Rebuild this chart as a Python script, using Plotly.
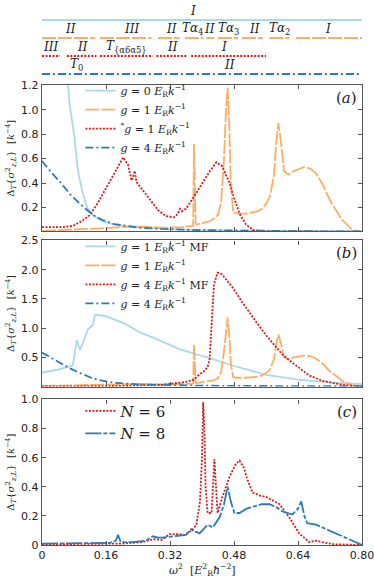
import plotly.graph_objects as go

LIGHT = "#abd9e9"
ORANGE = "#fdae61"
RED = "#d7191c"
BLUE = "#2c7bb6"
FRAME = "#555555"
TEXT = "#222222"
SERIF = "DejaVu Serif"
SANS = "DejaVu Sans"

X_TICKS = [0, 0.16, 0.32, 0.48, 0.64, 0.80]
X_TICK_TEXT = ["0", "0.16", "0.32", "0.48", "0.64", "0.80"]

# phase diagram rows: (start, end) segments per row
PHASE_LIGHT = [(0.0, 0.8)]
PHASE_ORANGE = [(0.0, 0.132), (0.145, 0.274), (0.29, 0.344), (0.357, 0.403), (0.411, 0.431),
                (0.44, 0.49), (0.5, 0.552), (0.568, 0.618), (0.635, 0.8)]
PHASE_RED = [(0.0, 0.045), (0.062, 0.136), (0.145, 0.277), (0.286, 0.361), (0.373, 0.56)]
PHASE_BLUE = [(0.0, 0.8)]
LABELS_LIGHT = [(0.377, "<i>I</i>")]
LABELS_ORANGE = [(0.07, "<i>II</i>"), (0.224, "<i>III</i>"), (0.323, "<i>II</i>"),
                 (0.377, "<i>Tα</i><sub>4</sub>"), (0.419, "<i>II</i>"), (0.465, "<i>Tα</i><sub>3</sub>"),
                 (0.531, "<i>II</i>"), (0.593, "<i>Tα</i><sub>2</sub>"), (0.714, "<i>I</i>")]
LABELS_RED = [(0.02, "<i>III</i>"), (0.102, "<i>II</i>"), (0.211, "<i>T</i><sub>{α6α5}</sub>"),
              (0.327, "<i>II</i>"), (0.454, "<i>I</i>")]
LABELS_BLUE = [(0.085, "<i>T</i><sub>0</sub>"), (0.469, "<i>II</i>")]

# panel (a)
G0_X = [0.058, 0.062, 0.065, 0.07, 0.075, 0.08, 0.09, 0.1, 0.113, 0.12, 0.13, 0.15, 0.17, 0.2,
        0.25, 0.3, 0.35, 0.4, 0.5, 0.6, 0.7, 0.8]
G0_Y = [1.5, 1.3, 1.2, 1.02, 0.9, 0.8, 0.5, 0.34, 0.2, 0.17, 0.13, 0.09, 0.07, 0.05,
        0.035, 0.025, 0.02, 0.016, 0.012, 0.01, 0.01, 0.01]
G1_X = [0, 0.05, 0.1, 0.15, 0.2, 0.25, 0.3, 0.35, 0.378, 0.38, 0.382, 0.384, 0.386, 0.39, 0.4,
        0.42, 0.43, 0.44, 0.448, 0.455, 0.46, 0.464, 0.468, 0.472, 0.478, 0.49, 0.51, 0.53, 0.54,
        0.55, 0.56, 0.57, 0.58, 0.586, 0.591, 0.597, 0.605, 0.615, 0.63, 0.655, 0.67, 0.685, 0.7,
        0.72, 0.75, 0.775, 0.8]
G1_Y = [0.01, 0.015, 0.02, 0.03, 0.04, 0.045, 0.035, 0.04, 0.05, 0.72, 0.4, 0.07, 0.06, 0.065,
        0.07, 0.09, 0.11, 0.14, 0.25, 0.6, 1.0, 1.18, 0.9, 0.4, 0.16, 0.15, 0.15, 0.16, 0.17,
        0.19, 0.23, 0.29, 0.47, 0.75, 0.89, 0.75, 0.5, 0.47, 0.5, 0.53, 0.52, 0.48, 0.4,
        0.26, 0.1, 0.02, 0.0]
G1S_X = [0, 0.05, 0.077, 0.1, 0.12, 0.14, 0.162, 0.185, 0.203, 0.215, 0.224, 0.232, 0.236, 0.25,
         0.27, 0.29, 0.31, 0.33, 0.34, 0.345, 0.35, 0.36, 0.38, 0.4, 0.42, 0.436, 0.45, 0.469,
         0.48, 0.494, 0.51, 0.53, 0.56, 0.6, 0.7, 0.8]
G1S_Y = [0.04, 0.04, 0.05, 0.09, 0.14, 0.24, 0.37, 0.5, 0.61, 0.55, 0.42, 0.5, 0.41, 0.35,
         0.26, 0.18, 0.13, 0.12, 0.15, 0.19, 0.17, 0.19, 0.29, 0.4, 0.5, 0.57, 0.54, 0.4,
         0.28, 0.15, 0.06, 0.015, 0.005, 0.003, 0.002, 0.001]
G4_X = [0, 0.02, 0.045, 0.07, 0.095, 0.127, 0.15, 0.18, 0.245, 0.3, 0.4, 0.5, 0.6, 0.7, 0.8]
G4_Y = [0.58, 0.5, 0.41, 0.31, 0.23, 0.14, 0.1, 0.065, 0.035, 0.025, 0.015, 0.01, 0.008, 0.006, 0.005]

# panel (b)
MF1_X = [0, 0.04, 0.077, 0.087, 0.095, 0.107, 0.115, 0.127, 0.132, 0.145, 0.162, 0.212, 0.244,
         0.294, 0.344, 0.386, 0.414, 0.476, 0.561, 0.64, 0.72, 0.8]
MF1_Y = [0.24, 0.29, 0.36, 0.79, 0.62, 0.84, 0.98, 1.05, 1.22, 1.22, 1.2, 1.06, 0.93,
         0.79, 0.64, 0.55, 0.5, 0.36, 0.2, 0.12, 0.07, 0.04]
MF4_X = [0, 0.2, 0.3, 0.36, 0.38, 0.394, 0.405, 0.414, 0.419, 0.422, 0.426, 0.43, 0.439, 0.45,
         0.476, 0.501, 0.536, 0.56, 0.586, 0.601, 0.618, 0.64, 0.668, 0.7, 0.75, 0.8]
MF4_Y = [0.0, 0.01, 0.03, 0.08, 0.12, 0.21, 0.26, 0.33, 0.47, 0.88, 1.39, 1.75, 1.95, 1.92,
         1.7, 1.44, 1.1, 0.88, 0.67, 0.55, 0.45, 0.33, 0.19, 0.1, 0.03, 0.0]

# panel (c)
N6_X = [0, 0.1, 0.2, 0.25, 0.28, 0.3, 0.319, 0.34, 0.357, 0.375, 0.386, 0.395, 0.4, 0.403, 0.406,
        0.409, 0.414, 0.424, 0.428, 0.431, 0.435, 0.439, 0.451, 0.469, 0.485, 0.494, 0.505, 0.511,
        0.526, 0.545, 0.561, 0.594, 0.618, 0.643, 0.668, 0.685, 0.7, 0.73, 0.8]
N6_Y = [0.005, 0.005, 0.01, 0.02, 0.04, 0.035, 0.075, 0.075, 0.07, 0.1, 0.14, 0.3, 0.6, 0.98, 0.8,
        0.4, 0.22, 0.22, 0.4, 0.59, 0.4, 0.22, 0.33, 0.47, 0.56, 0.58, 0.53, 0.47,
        0.36, 0.34, 0.33, 0.28, 0.19, 0.08, 0.02, 0.03, 0.02, 0.005, 0.0]
N8_X = [0, 0.1, 0.17, 0.185, 0.19, 0.197, 0.227, 0.26, 0.277, 0.29, 0.3, 0.33, 0.36, 0.373, 0.38,
        0.386, 0.394, 0.414, 0.427, 0.444, 0.455, 0.464, 0.472, 0.481, 0.494, 0.511, 0.549, 0.569,
        0.586, 0.601, 0.626, 0.64, 0.648, 0.656, 0.663, 0.685, 0.718, 0.76, 0.8]
N8_Y = [0.01, 0.01, 0.015, 0.03, 0.07, 0.02, 0.02, 0.03, 0.06, 0.05, 0.05, 0.06, 0.07, 0.11, 0.09,
        0.09, 0.08, 0.14, 0.12, 0.19, 0.28, 0.4, 0.3, 0.22, 0.22, 0.25, 0.28, 0.28,
        0.26, 0.23, 0.21, 0.25, 0.3, 0.2, 0.15, 0.14, 0.1, 0.05, 0.0]

ORANGE_DASH = "14px,2px"
RED_DOT = "2px,1.5px"
BLUE_DASHDOT = "8px,3px,2px,3px"
N8_DASH = "16px,2px,4px,2px"

fig = go.Figure()

# phase diagram
phase_rows = [
    (PHASE_LIGHT, LABELS_LIGHT, LIGHT, "solid"),
    (PHASE_ORANGE, LABELS_ORANGE, ORANGE, ORANGE_DASH),
    (PHASE_RED, LABELS_RED, RED, RED_DOT),
    (PHASE_BLUE, LABELS_BLUE, BLUE, BLUE_DASHDOT),
]
for level, (segments, texts, color, dash) in enumerate(phase_rows):
    xs, ys = [], []
    for start, end in segments:
        xs += [start, end, None]
        ys += [level, level, None]
    fig.add_trace(go.Scatter(x=xs, y=ys, mode="lines", xaxis="x", yaxis="y", showlegend=False,
                             line=dict(color=color, width=2, dash=dash), hoverinfo="skip"))
    for pos, txt in texts:
        fig.add_annotation(x=pos, y=level - 0.5, xref="x", yref="y", text=txt, showarrow=False,
                           font=dict(family=SERIF, size=12, color=TEXT))

ER = "<i>E</i><sub>R</sub><i>k</i><sup>−1</sup>"

# panel (a)
fig.add_trace(go.Scatter(x=G0_X, y=G0_Y, mode="lines", xaxis="x2", yaxis="y2", legend="legend",
                         name=f"<i>g</i> = 0 {ER}", line=dict(color=LIGHT, width=1.8)))
fig.add_trace(go.Scatter(x=G1_X, y=G1_Y, mode="lines", xaxis="x2", yaxis="y2", legend="legend",
                         name=f"<i>g</i> = 1 {ER}", line=dict(color=ORANGE, width=1.8, dash=ORANGE_DASH)))
fig.add_trace(go.Scatter(x=G1S_X, y=G1S_Y, mode="lines", xaxis="x2", yaxis="y2", legend="legend",
                         name=f"<sup>*</sup><i>g</i> = 1 {ER}", line=dict(color=RED, width=1.8, dash=RED_DOT)))
fig.add_trace(go.Scatter(x=G4_X, y=G4_Y, mode="lines", xaxis="x2", yaxis="y2", legend="legend",
                         name=f"<i>g</i> = 4 {ER}", line=dict(color=BLUE, width=1.8, dash=BLUE_DASHDOT)))

# panel (b)
fig.add_trace(go.Scatter(x=MF1_X, y=MF1_Y, mode="lines", xaxis="x3", yaxis="y3", legend="legend2",
                         name=f"<i>g</i> = 1 {ER} MF", line=dict(color=LIGHT, width=1.8)))
fig.add_trace(go.Scatter(x=G1_X, y=G1_Y, mode="lines", xaxis="x3", yaxis="y3", legend="legend2",
                         name=f"<i>g</i> = 1 {ER}", line=dict(color=ORANGE, width=1.8, dash=ORANGE_DASH)))
fig.add_trace(go.Scatter(x=MF4_X, y=MF4_Y, mode="lines", xaxis="x3", yaxis="y3", legend="legend2",
                         name=f"<i>g</i> = 4 {ER} MF", line=dict(color=RED, width=1.8, dash=RED_DOT)))
fig.add_trace(go.Scatter(x=G4_X, y=G4_Y, mode="lines", xaxis="x3", yaxis="y3", legend="legend2",
                         name=f"<i>g</i> = 4 {ER}", line=dict(color=BLUE, width=1.8, dash=BLUE_DASHDOT)))

# panel (c)
fig.add_trace(go.Scatter(x=N6_X, y=N6_Y, mode="lines", xaxis="x4", yaxis="y4", legend="legend3",
                         name="<i>N</i> = 6", line=dict(color=RED, width=1.8, dash=RED_DOT)))
fig.add_trace(go.Scatter(x=N8_X, y=N8_Y, mode="lines", xaxis="x4", yaxis="y4", legend="legend3",
                         name="<i>N</i> = 8", line=dict(color=BLUE, width=1.8, dash=N8_DASH)))

for ref, tag in [("2", "(<i>a</i>)"), ("3", "(<i>b</i>)"), ("4", "(<i>c</i>)")]:
    fig.add_annotation(x=0.99, y=0.99, xref=f"x{ref} domain", yref=f"y{ref} domain", text=tag,
                       showarrow=False, xanchor="right", yanchor="top",
                       font=dict(family=SERIF, size=15, color=TEXT))

YTITLE = "Δ<sub><i>T</i></sub>{<i>σ</i><sup>2</sup><sub><i>z,L</i></sub>}  [<i>k</i><sup>−4</sup>]"
XTITLE = "<i>ω</i><sup>2</sup>  [<i>E</i><sup>2</sup><sub>R</sub><i>ħ</i><sup>−2</sup>]"

fig.add_annotation(x=0.5, y=-0.047, xref="paper", yref="paper", text=XTITLE, showarrow=False,
                   yanchor="middle", font=dict(family=SERIF, size=11, color=TEXT))

frame = dict(showline=True, linecolor=FRAME, linewidth=1.4, mirror="ticks", ticks="inside",
             ticklen=4, tickcolor=FRAME, showgrid=False, zeroline=False,
             tickfont=dict(family=SANS, size=11, color=TEXT))


def xaxis(domain_anchor, show_labels):
    return dict(frame, domain=[0, 1], range=[0, 0.8], anchor=domain_anchor, tickvals=X_TICKS,
                ticktext=X_TICK_TEXT, showticklabels=show_labels, ticklabeloverflow="allow")


def yaxis(domain, rng, vals, texts):
    return dict(frame, domain=domain, range=rng, tickvals=vals, ticktext=texts,
                title=dict(text=YTITLE, font=dict(family=SERIF, size=10, color=TEXT), standoff=4))


legend_base = dict(bgcolor="rgba(0,0,0,0)", borderwidth=0, xanchor="left", yanchor="top",
                   itemwidth=30, tracegroupgap=0)

fig.update_layout(
    width=374,
    height=579,
    margin=dict(l=42, r=12, t=0, b=34),
    paper_bgcolor="white",
    plot_bgcolor="white",
    xaxis=dict(domain=[0, 1], range=[0, 0.8], anchor="y", visible=False),
    yaxis=dict(domain=[0.862, 1], range=[3.35, -0.78], visible=False),
    xaxis2=xaxis("y2", False),
    yaxis2=yaxis([0.582, 0.853], [0.006, 1.2], [0.2, 0.4, 0.6, 0.8, 1.0, 1.2],
                 ["0.2", "0.4", "0.6", "0.8", "1.0", "1.2"]),
    xaxis3=xaxis("y3", False),
    yaxis3=yaxis([0.294, 0.565], [0, 2.5], [0.5, 1.0, 1.5, 2.0, 2.5],
                 ["0.5", "1.0", "1.5", "2.0", "2.5"]),
    xaxis4=xaxis("y4", True),
    yaxis4=yaxis([0, 0.27], [0, 1.0], [0, 0.2, 0.4, 0.6, 0.8, 1.0],
                 ["0", "0.2", "0.4", "0.6", "0.8", "1.0"]),
    legend=dict(legend_base, x=0.12, y=0.87, font=dict(family=SERIF, size=11, color=TEXT)),
    legend2=dict(legend_base, x=0.12, y=0.581, font=dict(family=SERIF, size=11, color=TEXT)),
    legend3=dict(legend_base, x=0.12, y=0.279, font=dict(family=SERIF, size=15, color=TEXT)),
    showlegend=True,
)

# the page's default 8px body margin would push the figure off the window
fig.write_html("out.html", config={"displayModeBar": False},
               post_script="document.body.style.margin = '0';")
